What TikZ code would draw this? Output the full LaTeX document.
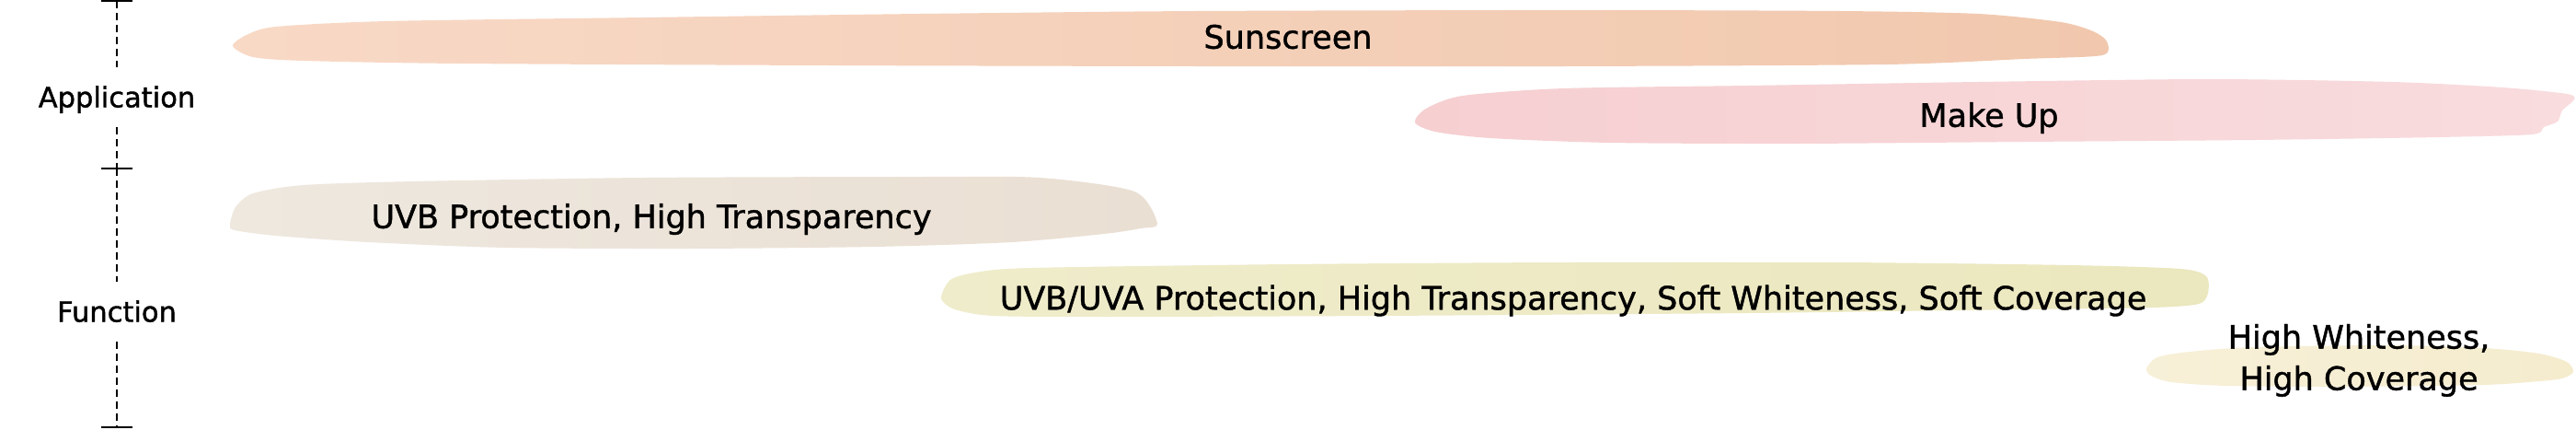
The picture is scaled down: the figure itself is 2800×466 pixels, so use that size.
\documentclass[tikz,border=0pt]{standalone}
\usepackage{fontspec}
\setmainfont{DejaVu Sans}
\newfontfamily\medfont[FakeBold=1.2]{DejaVu Sans}
\definecolor{sunL}{HTML}{F8D9C6}
\definecolor{sunR}{HTML}{F1C8AE}
\definecolor{makeL}{HTML}{F6CFD1}
\definecolor{makeR}{HTML}{F9DCDE}
\definecolor{uvbL}{HTML}{EEE8DF}
\definecolor{uvbR}{HTML}{EADFD3}
\definecolor{uvaL}{HTML}{EFECCB}
\definecolor{uvaR}{HTML}{EBE7BE}
\definecolor{whiteL}{HTML}{F7F0D8}
\definecolor{whiteR}{HTML}{F5ECCE}
\begin{document}
\begin{tikzpicture}[x=1pt,y=-1pt,
  barlabel/.style={font=\medfont\fontsize{35}{45}\selectfont, text height=25.5pt, text depth=0pt, inner sep=0pt, anchor=center},
  barlabeltwo/.style={font=\medfont\fontsize{35}{45}\selectfont, align=center, inner sep=0pt, anchor=center},
  axislabel/.style={font=\medfont\fontsize{30.5}{36}\selectfont, text height=22pt, text depth=0pt, inner sep=0pt, minimum height=65pt},
  axisdash/.style={line width=1.6pt, dash pattern=on 8pt off 5pt},
  tickmark/.style={line width=1.8pt},
  brush/.style={draw=none}
]
\useasboundingbox (0,0) rectangle (2800,466);
\fill[white] (0,0) rectangle (2800,466);

% brush strokes
\shade[brush, left color=sunL, right color=sunR] plot[smooth cycle, tension=0.45] coordinates {
 (253,50) (268,38) (300,29) (420,23) (700,19) (1000,15) (1300,12) (1700,11) (2000,12) (2150,15) (2240,24) (2275,34) (2290,45) (2285,60) (2200,64) (2050,70) (1700,72) (1300,72) (900,71) (500,69) (330,66) (275,62)};
\shade[brush, left color=makeL, right color=makeR] plot[smooth cycle, tension=0.45] coordinates {
 (1538,133) (1550,118) (1590,104) (1700,96) (1900,93) (2150,89) (2400,86) (2600,89) (2720,95) (2790,102) (2798,108) (2785,120) (2780,132) (2765,138) (2752,146) (2650,149) (2450,152) (2200,154) (1950,156) (1750,155) (1620,150) (1560,143)};
\shade[brush, left color=uvbL, right color=uvbR] plot[smooth cycle, tension=0.45] coordinates {
 (250,244) (256,225) (275,210) (330,201) (450,197) (700,193) (1000,192) (1130,193) (1233,208) (1258,243) (1240,248) (1200,254) (1100,263) (950,268) (750,270) (550,269) (400,263) (300,256) (255,250)};
\shade[brush, left color=uvaL, right color=uvaR] plot[smooth cycle, tension=0.45] coordinates {
 (1023,324) (1033,304) (1060,296) (1120,291) (1400,287) (1700,285) (2000,285) (2250,288) (2370,292) (2398,300) (2400,318) (2390,330) (2340,334) (2200,336) (1900,340) (1500,343) (1200,344) (1080,343) (1038,336)};
\shade[brush, left color=whiteL, right color=whiteR] plot[smooth cycle, tension=0.45] coordinates {
 (2333,400) (2345,388) (2380,382) (2450,377) (2600,375) (2700,378) (2760,384) (2790,393) (2797,404) (2785,411) (2760,414) (2700,418) (2550,420) (2420,419) (2360,415) (2338,408)};

% axis
\coordinate (t0) at (127,1);
\coordinate (t1) at (127,183);
\coordinate (t2) at (127,464);
\node[axislabel] (app) at (127,105.5) {Application};
\node[axislabel] (fun) at (127,338.5) {Function};
\draw[axisdash] (t0) -- (app);
\draw[axisdash] (app) -- (t1);
\draw[axisdash] (t1) -- (fun);
\draw[axisdash] (fun) -- (t2);
\draw[tickmark] ([xshift=-17pt]t0) -- ([xshift=17pt]t0);
\draw[tickmark] ([xshift=-17pt]t1) -- ([xshift=17pt]t1);
\draw[tickmark] ([xshift=-17pt]t2) -- ([xshift=17pt]t2);

% labels
\node[barlabel] (sun) at (1400,40) {Sunscreen};
\node[barlabel] (make) at (2162,125) {Make Up};
\node[barlabel] (uvb) at (708,235) {UVB Protection, High Transparency};
\node[barlabel] (uva) at (1710,323.5) {UVB/UVA Protection, High Transparency, Soft Whiteness, Soft Coverage};
\node[barlabeltwo] (white) at (2564,391.4) {High Whiteness,\\High Coverage};
\end{tikzpicture}
\end{document}
